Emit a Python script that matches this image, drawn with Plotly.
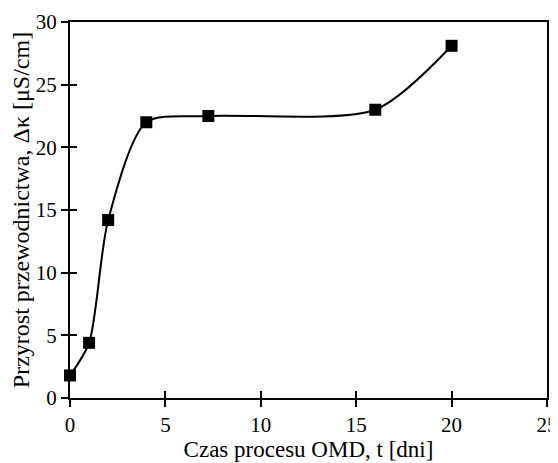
import plotly.graph_objects as go

# Data
t_days = [0, 1, 2, 4, 7.25, 16, 20]
delta_kappa = [1.8, 4.4, 14.2, 22.0, 22.5, 23.0, 28.1]

x_ticks = [0, 5, 10, 15, 20, 25]
y_ticks = [0, 5, 10, 15, 20, 25, 30]

x_title = "Czas procesu OMD, t [dni]"
y_title = "Przyrost przewodnictwa, Δκ [μS/cm]"

FONT = "Liberation Serif"

fig = go.Figure()
fig.add_trace(go.Scatter(
    x=t_days, y=delta_kappa, mode="lines+markers",
    line=dict(color="black", width=2, shape="spline", smoothing=0.75),
    marker=dict(symbol="square", size=12, color="black"),
    showlegend=False, cliponaxis=False,
))
# invisible trace to bind the secondary (inside-tick) axes
fig.add_trace(go.Scatter(
    x=t_days, y=delta_kappa, mode="none", xaxis="x2", yaxis="y2",
    showlegend=False, hoverinfo="skip",
))

axis_common = dict(
    showgrid=False, zeroline=False, linecolor="black", linewidth=2,
    tickcolor="black", tickwidth=2, ticklen=7, automargin=False,
    tickfont=dict(family=FONT, size=21, color="black"),
)

# page body has an 8px default margin, so the figure is sized 550x455
fig.update_layout(
    width=550, height=455,
    margin=dict(l=62, r=11, t=14, b=65),
    paper_bgcolor="white", plot_bgcolor="white",
    font=dict(family=FONT, color="black"),
    xaxis=dict(range=[0, 25], tickvals=x_ticks, ticks="outside", showline=True, mirror=True,
               title=dict(text=x_title, font=dict(family=FONT, size=23, color="black"), standoff=4),
               **axis_common),
    yaxis=dict(range=[0, 30], tickvals=y_ticks, ticks="outside", showline=True, mirror=True,
               title=dict(text=y_title, font=dict(family=FONT, size=24, color="black"), standoff=4),
               **axis_common),
    xaxis2=dict(range=[0, 25], tickvals=x_ticks, ticks="inside", overlaying="x", showline=False,
                showticklabels=False, showgrid=False, zeroline=False, automargin=False,
                tickcolor="black", tickwidth=2, ticklen=7, side="bottom"),
    yaxis2=dict(range=[0, 30], tickvals=y_ticks, ticks="inside", overlaying="y", showline=False,
                showticklabels=False, showgrid=False, zeroline=False, automargin=False,
                tickcolor="black", tickwidth=2, ticklen=7, side="left"),
)

fig.write_html("out.html")
